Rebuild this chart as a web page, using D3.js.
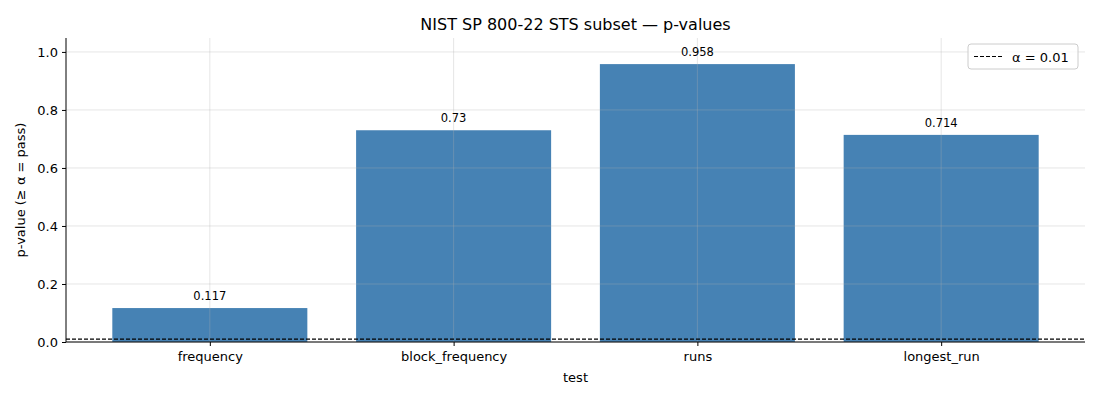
<!DOCTYPE html>
<html>
<head>
<meta charset="utf-8">
<script src="https://cdn.jsdelivr.net/npm/d3@7"></script>
<style>
  body { margin: 0; background: #fff; }
  svg text { font-family: 'DejaVu Sans', sans-serif; fill: #000; }
  .axis path, .axis line { stroke: #000; }
  .axis text { font-size: 13px; }
</style>
</head>
<body>
<svg id="chart" width="1100" height="400"></svg>
<script>
// data
const tests = ["frequency", "block_frequency", "runs", "longest_run"];
const pValues = [0.117, 0.73, 0.958, 0.714];
const alpha = 0.01;
const yTicks = [0, 0.2, 0.4, 0.6, 0.8, 1.0];

const width = 1100, height = 400;
const margin = {top: 38, right: 15, bottom: 58, left: 66};
const innerW = width - margin.left - margin.right;
const innerH = height - margin.top - margin.bottom;

const svg = d3.select("#chart");
const g = svg.append("g").attr("transform", `translate(${margin.left},${margin.top})`);

// matplotlib-like band layout: bar width 0.8, 5% margins
const x = d3.scaleLinear().domain([-0.59, tests.length - 1 + 0.59]).range([0, innerW]);
const y = d3.scaleLinear().domain([0, 1.048]).range([innerH, 0]);
const barW = x(0.8) - x(0);

// bars
g.selectAll(".bar")
  .data(pValues)
  .enter().append("rect")
  .attr("class", "bar")
  .attr("x", (d, i) => x(i) - barW / 2)
  .attr("y", d => y(d))
  .attr("width", barW)
  .attr("height", d => y(0) - y(d))
  .attr("fill", "#4682b4");

// grid (drawn over bars)
g.selectAll(".hgrid")
  .data(yTicks)
  .enter().append("line")
  .attr("x1", 0).attr("x2", innerW)
  .attr("y1", d => y(d)).attr("y2", d => y(d))
  .attr("stroke", "#b0b0b0").attr("stroke-opacity", 0.4).attr("stroke-width", 0.8);

g.selectAll(".vgrid")
  .data(tests)
  .enter().append("line")
  .attr("x1", (d, i) => x(i)).attr("x2", (d, i) => x(i))
  .attr("y1", 0).attr("y2", innerH)
  .attr("stroke", "#b0b0b0").attr("stroke-opacity", 0.4).attr("stroke-width", 0.8);

// value labels
g.selectAll(".val")
  .data(pValues)
  .enter().append("text")
  .attr("x", (d, i) => x(i))
  .attr("y", d => y(d) - 8)
  .attr("text-anchor", "middle")
  .style("font-size", "11.5px")
  .text(d => String(d));

// alpha threshold
g.append("line")
  .attr("x1", 0).attr("x2", innerW)
  .attr("y1", y(alpha)).attr("y2", y(alpha))
  .attr("stroke", "#000").attr("stroke-width", 1.1)
  .attr("stroke-dasharray", "4,2");

// axes
const yAxis = g.append("g").attr("class", "axis")
  .call(d3.axisLeft(y).tickValues(yTicks).tickFormat(d3.format(".1f")).tickSize(4).tickPadding(4));
yAxis.select(".domain").attr("d", `M0,0V${innerH}`);

const xAxis = g.append("g").attr("class", "axis")
  .attr("transform", `translate(0,${innerH})`)
  .call(d3.axisBottom(x).tickValues(d3.range(tests.length)).tickFormat(i => tests[i]).tickSize(4).tickPadding(6));
xAxis.select(".domain").attr("d", `M0,0H${innerW}`);

// labels
svg.append("text")
  .attr("x", margin.left + innerW / 2).attr("y", 30)
  .attr("text-anchor", "middle")
  .style("font-size", "16px")
  .text("NIST SP 800-22 STS subset — p-values");

svg.append("text")
  .attr("x", margin.left + innerW / 2).attr("y", 382)
  .attr("text-anchor", "middle")
  .style("font-size", "13px")
  .text("test");

svg.append("text")
  .attr("transform", `translate(25,${margin.top + innerH / 2}) rotate(-90)`)
  .attr("text-anchor", "middle")
  .style("font-size", "13px")
  .text("p-value (≥ α = pass)");

// legend
const lg = svg.append("g").attr("transform", "translate(968,44)");
lg.append("rect")
  .attr("width", 110).attr("height", 25).attr("rx", 3)
  .attr("fill", "#fff").attr("fill-opacity", 0.8)
  .attr("stroke", "#ccc");
lg.append("line")
  .attr("x1", 6).attr("x2", 34).attr("y1", 12.5).attr("y2", 12.5)
  .attr("stroke", "#000").attr("stroke-width", 1.1).attr("stroke-dasharray", "4,2");
lg.append("text")
  .attr("x", 44).attr("y", 17.5)
  .style("font-size", "13px")
  .text("α = 0.01");
</script>
</body>
</html>
